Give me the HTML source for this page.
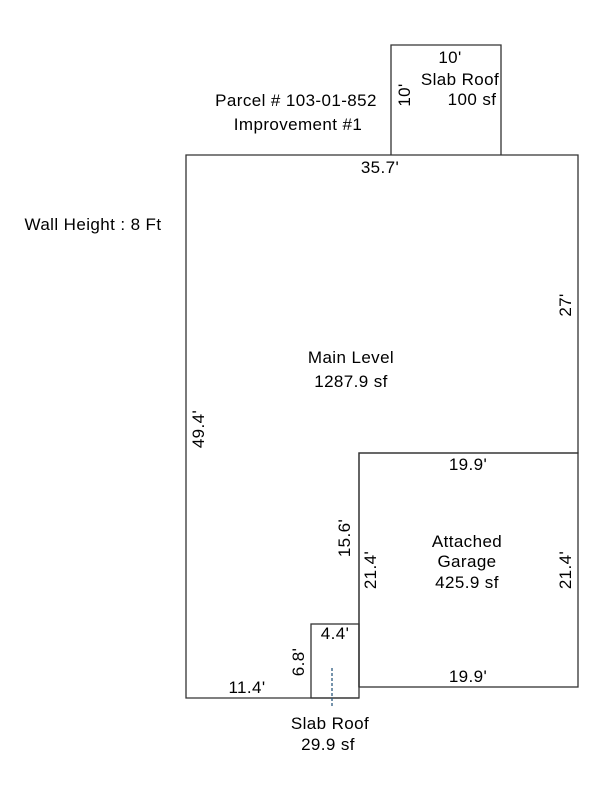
<!DOCTYPE html>
<html><head><style>body{margin:0;background:#fff}svg{display:block}text{font-family:"Liberation Sans",Arial,sans-serif;font-size:17px;letter-spacing:0.4px;fill:#000}</style></head><body>
<svg width="600" height="800" viewBox="0 0 600 800">
<g stroke="#333" stroke-width="1.3" fill="none">
<polyline points="359,687 359,453 578,453 578,155 186,155 186,698 359,698"/>
<rect x="359" y="453" width="219" height="234"/>
<rect x="311" y="624" width="48" height="74"/>
<polyline points="391,155 391,45 501,45 501,155"/>
</g>
<line x1="332" y1="668" x2="332" y2="707" stroke="#2c5b80" stroke-width="1.3" stroke-dasharray="3,2"/>
<g text-anchor="middle">
<text x="296" y="106">Parcel # 103-01-852</text>
<text x="298" y="130">Improvement #1</text>
<text x="93" y="230">Wall Height : 8 Ft</text>
<text x="450" y="63">10'</text>
<text x="460" y="85">Slab Roof</text>
<text x="472" y="105">100 sf</text>
<text x="380" y="173">35.7'</text>
<text x="351" y="363">Main Level</text>
<text x="351" y="387">1287.9 sf</text>
<text x="468" y="470">19.9'</text>
<text x="467" y="547">Attached</text>
<text x="467" y="567">Garage</text>
<text x="467" y="588">425.9 sf</text>
<text x="335" y="639">4.4'</text>
<text x="468" y="682">19.9'</text>
<text x="247" y="693">11.4'</text>
<text x="330" y="729">Slab Roof</text>
<text x="328" y="750">29.9 sf</text>
<text transform="translate(410,95) rotate(-90)">10'</text>
<text transform="translate(571,305) rotate(-90)">27'</text>
<text transform="translate(204,429) rotate(-90)">49.4'</text>
<text transform="translate(350,538) rotate(-90)">15.6'</text>
<text transform="translate(376,570) rotate(-90)">21.4'</text>
<text transform="translate(571,570) rotate(-90)">21.4'</text>
<text transform="translate(304,662) rotate(-90)">6.8'</text>
</g>
</svg>
</body></html>
